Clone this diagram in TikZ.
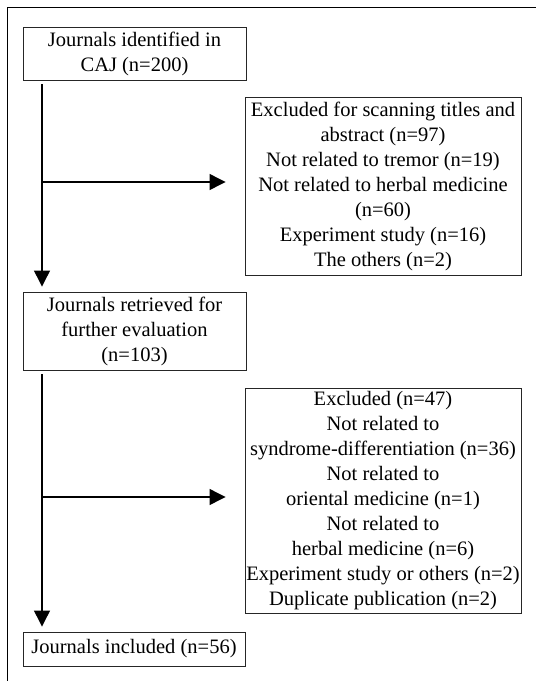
\documentclass[tikz,border=0pt]{standalone}
\usepackage{fontspec}
\setmainfont{Liberation Serif}
\usetikzlibrary{arrows.meta}

\begin{document}
\begin{tikzpicture}[x=1pt,y=-1pt,
    box/.style={draw=black!85, line width=0.9pt, inner sep=0pt, align=center,
        font=\fontsize{20.5}{25}\selectfont},
    arr/.style={line width=1.2pt, -{Triangle[length=16pt,width=16pt]}}]
\useasboundingbox (0,0) rectangle (536,681);
% outer frame
\draw[line width=1pt] (7,681) -- (7,7) -- (536,7);

\node[box, minimum width=223pt, minimum height=53pt] (ident) at (134.5,53.5)
    {Journals identified in\\CAJ (n=200)};
\node[box, minimum width=276pt, minimum height=178pt] (excl1) at (383,186)
    {Excluded for scanning titles and\\abstract (n=97)\\Not related to tremor (n=19)\\
     Not related to herbal medicine\\(n=60)\\Experiment study (n=16)\\The others (n=2)};
\node[box, minimum width=223pt, minimum height=78pt] (retr) at (134.5,331)
    {Journals retrieved for\\further evaluation\\(n=103)};
\node[box, minimum width=276pt, minimum height=225pt] (excl2) at (383,500.5)
    {Excluded (n=47)\\Not related to\\syndrome-differentiation (n=36)\\Not related to\\
     oriental medicine (n=1)\\Not related to\\herbal medicine (n=6)\\
     Experiment study or others (n=2)\\Duplicate publication (n=2)};
\node[box, minimum width=222pt, minimum height=34pt] (incl) at (134,649)
    {Journals included (n=56)};

% branch points on the main line
\coordinate (b1) at (42,182);
\coordinate (b2) at (42,497);

\draw[arr, shorten <=4pt, shorten >=5pt] (ident.south -| b1) -- (retr.north -| b1);
\draw[arr, shorten <=4pt, shorten >=5pt] (retr.south -| b2) -- (incl.north -| b2);
\draw[arr, shorten >=19pt] (b1) -- (b1 -| excl1.west);
\draw[arr, shorten >=19pt] (b2) -- (b2 -| excl2.west);
\end{tikzpicture}
\end{document}
